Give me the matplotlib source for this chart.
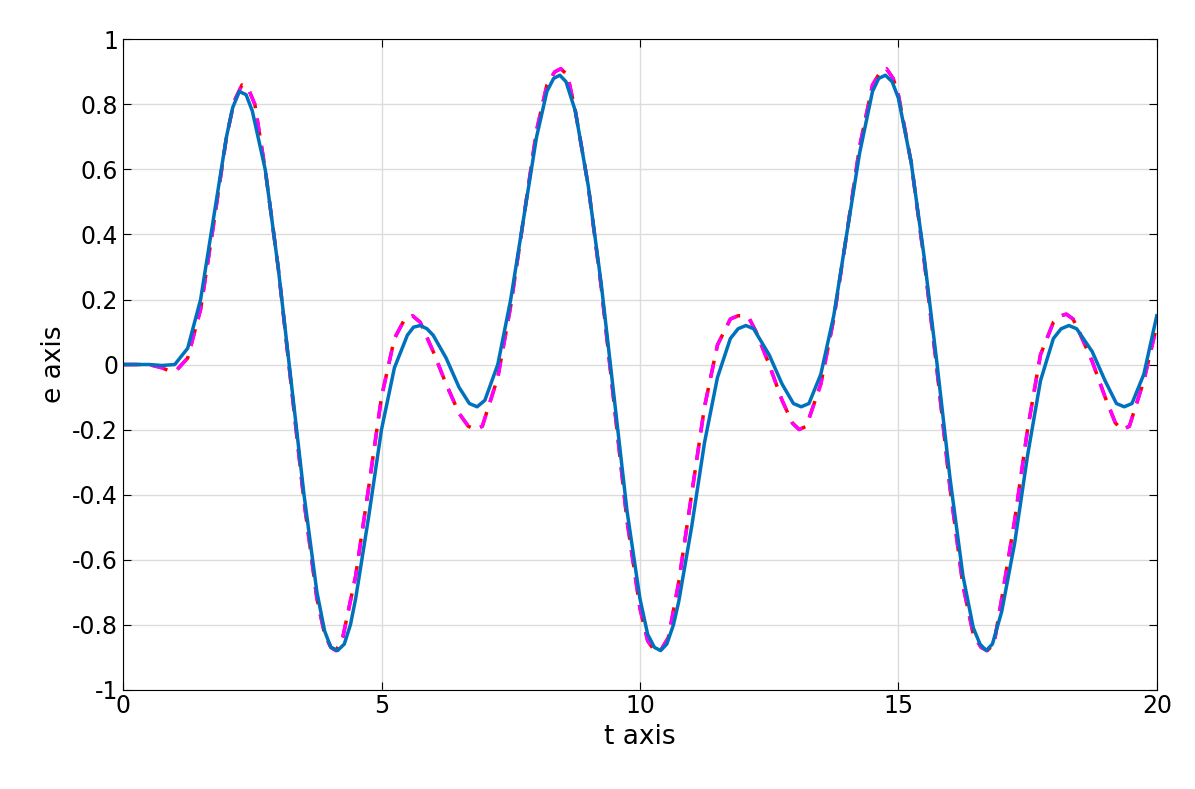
import matplotlib.pyplot as plt
import numpy as np

# blue solid curve (t, e)
t_blue = [0, 0.5, 0.75, 1.0, 1.25, 1.5, 1.75, 2.0, 2.12, 2.25, 2.38, 2.5, 2.75, 3.0, 3.25, 3.5,
          3.75, 3.9, 4.02, 4.15, 4.28, 4.4, 4.5, 4.75, 5.0, 5.25, 5.5, 5.62, 5.75, 5.88, 6.0, 6.25,
          6.5, 6.7, 6.85, 7.0, 7.25, 7.5, 7.75, 8.0, 8.2, 8.33, 8.45, 8.57, 8.75, 9.0, 9.25, 9.5,
          9.75, 10.0, 10.15, 10.28, 10.4, 10.52, 10.65, 10.75, 11.0, 11.25, 11.5, 11.75, 11.9,
          12.05, 12.2, 12.5, 12.75, 12.97, 13.12, 13.27, 13.5, 13.75, 14.0, 14.25, 14.5, 14.62,
          14.75, 14.88, 15.0, 15.25, 15.5, 15.75, 16.0, 16.25, 16.45, 16.58, 16.7, 16.82, 17.0,
          17.25, 17.5, 17.75, 18.0, 18.15, 18.3, 18.45, 18.75, 19.0, 19.22, 19.37, 19.52, 19.75, 20.0]
e_blue = [0, 0, -0.003, 0.0, 0.05, 0.2, 0.45, 0.7, 0.79, 0.84, 0.83, 0.78, 0.6, 0.3, -0.05, -0.4,
          -0.7, -0.82, -0.87, -0.88, -0.86, -0.8, -0.72, -0.47, -0.2, -0.01, 0.09, 0.115, 0.12, 0.11,
          0.09, 0.02, -0.07, -0.12, -0.13, -0.11, 0.0, 0.2, 0.45, 0.7, 0.84, 0.88, 0.89, 0.87, 0.78,
          0.55, 0.25, -0.1, -0.45, -0.72, -0.83, -0.87, -0.88, -0.86, -0.8, -0.73, -0.5, -0.24,
          -0.04, 0.08, 0.11, 0.12, 0.11, 0.03, -0.06, -0.12, -0.13, -0.12, -0.03, 0.15, 0.4, 0.65,
          0.84, 0.88, 0.89, 0.87, 0.82, 0.62, 0.33, 0.0, -0.35, -0.65, -0.81, -0.86, -0.88, -0.86,
          -0.76, -0.55, -0.28, -0.05, 0.08, 0.11, 0.12, 0.11, 0.04, -0.05, -0.12, -0.13, -0.12,
          -0.03, 0.15]

# dashed curves (red and magenta nearly overlap)
t_red = [0, 0.5, 0.75, 0.9, 1.05, 1.25, 1.5, 1.75, 2.0, 2.15, 2.3, 2.42, 2.55, 2.75, 3.0, 3.25,
         3.5, 3.75, 3.9, 4.02, 4.12, 4.25, 4.5, 4.75, 5.0, 5.25, 5.45, 5.6, 5.75, 6.0, 6.25, 6.5,
         6.68, 6.82, 6.95, 7.25, 7.5, 7.75, 8.0, 8.2, 8.35, 8.47, 8.6, 8.75, 9.0, 9.25, 9.5, 9.75,
         10.0, 10.15, 10.28, 10.4, 10.55, 10.75, 11.0, 11.25, 11.5, 11.75, 11.9, 12.0, 12.12,
         12.25, 12.5, 12.75, 12.95, 13.08, 13.22, 13.5, 13.75, 14.0, 14.25, 14.5, 14.65, 14.77,
         14.9, 15.0, 15.25, 15.5, 15.75, 16.0, 16.25, 16.45, 16.6, 16.72, 16.85, 17.0, 17.25,
         17.5, 17.75, 18.0, 18.15, 18.25, 18.38, 18.5, 18.75, 19.0, 19.2, 19.33, 19.47, 19.75, 20.0]
e_red = [0, 0, -0.01, -0.02, -0.015, 0.02, 0.17, 0.43, 0.7, 0.81, 0.86, 0.85, 0.8, 0.6, 0.3, -0.06,
         -0.42, -0.72, -0.83, -0.87, -0.88, -0.84, -0.65, -0.38, -0.1, 0.08, 0.14, 0.15, 0.13, 0.04,
         -0.06, -0.15, -0.19, -0.2, -0.19, -0.04, 0.18, 0.45, 0.72, 0.86, 0.9, 0.91, 0.89, 0.78,
         0.55, 0.24, -0.12, -0.48, -0.75, -0.85, -0.88, -0.88, -0.84, -0.67, -0.4, -0.13, 0.06,
         0.14, 0.15, 0.15, 0.14, 0.1, 0.0, -0.11, -0.18, -0.2, -0.19, -0.06, 0.14, 0.4, 0.67, 0.86,
         0.9, 0.91, 0.88, 0.83, 0.62, 0.32, -0.02, -0.38, -0.68, -0.83, -0.87, -0.88, -0.86, -0.72,
         -0.48, -0.2, 0.03, 0.13, 0.15, 0.155, 0.14, 0.1, 0.01, -0.1, -0.18, -0.2, -0.19, -0.05, 0.12]
t_mag = list(t_red)
e_mag = list(e_red)

fig, ax = plt.subplots(figsize=(11.95, 7.89), dpi=100)
ax.plot(t_red, e_red, color='red', lw=2.5, ls=(0, (5, 3)))
ax.plot(t_mag, e_mag, color='magenta', lw=2.5, ls=(0, (4, 4)))
ax.plot(t_blue, e_blue, color='#0072BD', lw=2.5)
ax.set_xlim(0, 20)
ax.set_ylim(-1, 1)
ax.set_xticks([0, 5, 10, 15, 20])
ax.set_yticks(np.round(np.arange(-1, 1.01, 0.2), 1))
ax.set_yticklabels(['-1', '-0.8', '-0.6', '-0.4', '-0.2', '0', '0.2', '0.4', '0.6', '0.8', '1'])
ax.grid(True, color='#dcdcdc', lw=1)
ax.tick_params(direction='in', labelsize=17, top=True, right=True, length=6)
ax.set_xlabel('t axis', fontsize=19)
ax.set_ylabel('e axis', fontsize=19)
plt.subplots_adjust(left=0.103, right=0.968, top=0.95, bottom=0.126)
plt.savefig('out.png')
